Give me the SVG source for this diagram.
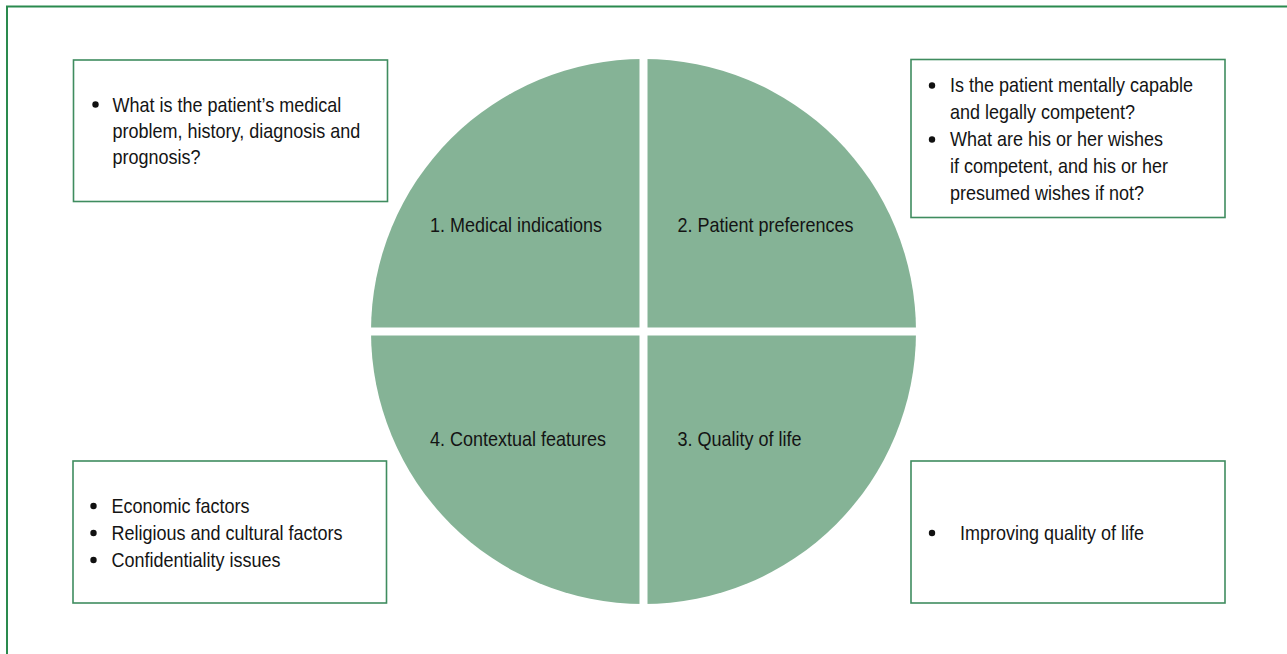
<svg xmlns="http://www.w3.org/2000/svg" width="1287" height="654" viewBox="0 0 1287 654">
<style>
.frame{fill:none;stroke:#2a8a4e;stroke-width:2}
.box{fill:#ffffff;stroke:#3f8c5f;stroke-width:1.6}
.q{fill:#85b396}
.t{font-family:"Liberation Sans",Arial,sans-serif;font-size:20px;fill:#141414}
.b{fill:#111}
</style>
<rect width="1287" height="654" fill="#ffffff"/>
<path class="frame" d="M7 654 V6.5 H1287"/>
<g id="circle">
<circle class="q" cx="643.5" cy="331.5" r="272.5"/>
<rect x="639.5" y="56" width="8" height="552" fill="#ffffff"/>
<rect x="368" y="327.5" width="551" height="8" fill="#ffffff"/>
</g>
<g id="q1"><g transform="translate(430 0) scale(0.9 1)"><text class="t" x="0" y="231.7">1. Medical indications</text></g></g>
<g id="q2"><g transform="translate(677.5 0) scale(0.9 1)"><text class="t" x="0" y="231.7">2. Patient preferences</text></g></g>
<g id="q4"><g transform="translate(430 0) scale(0.9 1)"><text class="t" x="0" y="446">4. Contextual features</text></g></g>
<g id="q3"><g transform="translate(677.5 0) scale(0.9 1)"><text class="t" x="0" y="446">3. Quality of life</text></g></g>
<g id="box-tl">
<rect class="box" x="73.5" y="60" width="314" height="141.5"/>
<circle class="b" cx="95.5" cy="104.5" r="3.2"/>
<g transform="translate(112.5 0) scale(0.9 1)">
<text class="t" x="0" y="111.7">What is the patient’s medical</text>
<text class="t" x="0" y="138">problem, history, diagnosis and</text>
<text class="t" x="0" y="164.3">prognosis?</text>
</g>
</g>
<g id="box-tr">
<rect class="box" x="911" y="59.5" width="314" height="158"/>
<circle class="b" cx="932" cy="85.5" r="3.2"/>
<circle class="b" cx="932" cy="139.5" r="3.2"/>
<g transform="translate(950 0) scale(0.9 1)">
<text class="t" x="0" y="92.5">Is the patient mentally capable</text>
<text class="t" x="0" y="119.3">and legally competent?</text>
<text class="t" x="0" y="146.3">What are his or her wishes</text>
<text class="t" x="0" y="173">if competent, and his or her</text>
<text class="t" x="0" y="199.8">presumed wishes if not?</text>
</g>
</g>
<g id="box-bl">
<rect class="box" x="73" y="461" width="313.5" height="142"/>
<circle class="b" cx="93.5" cy="506" r="3.2"/>
<circle class="b" cx="93.5" cy="533" r="3.2"/>
<circle class="b" cx="93.5" cy="560" r="3.2"/>
<g transform="translate(111.5 0) scale(0.9 1)">
<text class="t" x="0" y="513">Economic factors</text>
<text class="t" x="0" y="540">Religious and cultural factors</text>
<text class="t" x="0" y="567">Confidentiality issues</text>
</g>
</g>
<g id="box-br">
<rect class="box" x="911" y="461" width="314" height="142"/>
<circle class="b" cx="932" cy="533" r="3.2"/>
<g transform="translate(960 0) scale(0.9 1)">
<text class="t" x="0" y="540">Improving quality of life</text>
</g>
</g>
<g id="connectors"/>
</svg>
